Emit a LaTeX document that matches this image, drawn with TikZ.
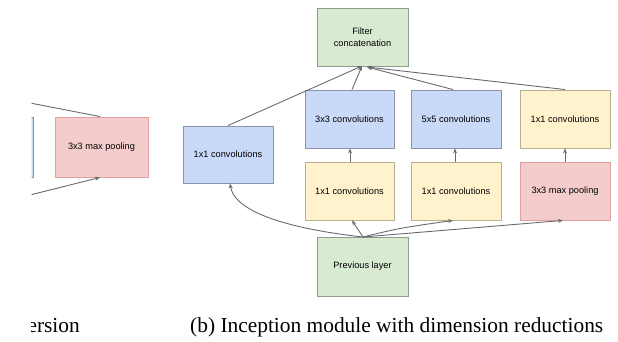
\documentclass[tikz,border=0pt]{standalone}
\usepackage{fontspec}
\setmainfont{Liberation Serif}
\setsansfont{Liberation Sans}
\usetikzlibrary{arrows.meta}
\definecolor{bluefill}{HTML}{C9DAF8}
\definecolor{blueline}{HTML}{8A94A8}
\definecolor{yelfill}{HTML}{FFF2CC}
\definecolor{yelline}{HTML}{B8AE90}
\definecolor{pinkfill}{HTML}{F4CCCC}
\definecolor{pinkline}{HTML}{E0A0A0}
\definecolor{greenfill}{HTML}{D9EAD3}
\definecolor{greenline}{HTML}{8E9C8A}
\definecolor{arrowcol}{HTML}{6A6A6A}
\tikzset{
  box/.style={draw, line width=0.9pt, inner sep=0pt, font=\sffamily\fontsize{9.2}{11}\selectfont, align=center},
  bluebox/.style={box, fill=bluefill, draw=blueline},
  yelbox/.style={box, fill=yelfill, draw=yelline},
  pinkbox/.style={box, fill=pinkfill, draw=pinkline},
  greenbox/.style={box, fill=greenfill, draw=greenline},
  conn/.style={draw=arrowcol, line width=0.9pt, -{Stealth[length=5pt,width=4pt]}},
  connplain/.style={draw=arrowcol, line width=0.9pt},
}
\begin{document}
\begin{tikzpicture}[x=1pt,y=-1pt]
\useasboundingbox (0,0) rectangle (618,342);
\fill[white] (0,0) rectangle (618,342);
% left, partially visible part
\begin{scope}
\clip (31.5,0) rectangle (618,342);
\node[bluebox, minimum width=60pt, minimum height=60pt] (lb) at (3,147) {};
\node[pinkbox, minimum width=93pt, minimum height=60pt] (lp) at (101.5,147) {3x3 max pooling};
\coordinate (lin) at (30,195);
\coordinate (lout) at (30,103);
\draw[conn] (lin) -- (lp.south -| 100,0);
\draw[connplain] (lp.north -| 100,0) -- (lout);
\node[anchor=base east, font=\fontsize{21.4}{24}\selectfont, inner sep=0pt] (lcap) at (80,332) {version};
\end{scope}
% right part
\node[greenbox, minimum width=91pt, minimum height=58pt] (fc) at (362.5,37) {Filter\\[1pt]concatenation};
\node[bluebox, minimum width=90pt, minimum height=57pt] (c1) at (228,154.5) {1x1 convolutions};
\node[bluebox, minimum width=89pt, minimum height=58pt] (c3) at (349.5,119) {3x3 convolutions};
\node[bluebox, minimum width=90pt, minimum height=58pt] (c5) at (456,119) {5x5 convolutions};
\node[yelbox, minimum width=90pt, minimum height=58pt] (cp) at (565,119) {1x1 convolutions};
\node[yelbox, minimum width=89pt, minimum height=58pt] (r3) at (349.5,191) {1x1 convolutions};
\node[yelbox, minimum width=90pt, minimum height=58pt] (r5) at (456,191) {1x1 convolutions};
\node[pinkbox, minimum width=90pt, minimum height=58pt] (mp) at (565,191) {3x3 max pooling};
\node[greenbox, minimum width=91pt, minimum height=59pt] (pl) at (362.5,266.5) {Previous layer};
\coordinate (pt) at (363,237);
\coordinate (fa) at (362,66);
\coordinate (fb) at (367,67);
% from previous layer
\draw[conn] (pt) .. controls (300,230) and (235,215) .. (c1.south -| 230,0);
\draw[conn] (pt) -- (r3.south -| 352,0);
\draw[conn] (pt) .. controls (400,228) .. (r5.south -| 453,0);
\draw[conn] (pt) -- (mp.south -| 563,0);
% vertical
\draw[conn] (r3.north -| 350,0) -- (c3.south -| 350,0);
\draw[conn] (r5.north -| 455,0) -- (c5.south -| 455,0);
\draw[conn] (mp.north -| 565,0) -- (cp.south -| 565,0);
% to filter concatenation
\draw[conn] (c1.north -| 228,0) -- (fa);
\draw[conn] (c3.north -| 352,0) -- (fa);
\draw[conn] (c5.north -| 453,0) -- (fb);
\draw[conn] (cp.north -| 565,0) -- (fb);
% caption
\node[anchor=base west, font=\fontsize{21.4}{24}\selectfont, inner sep=0pt] (cap) at (190,332) {(b) Inception module with dimension reductions};
\end{tikzpicture}
\end{document}
